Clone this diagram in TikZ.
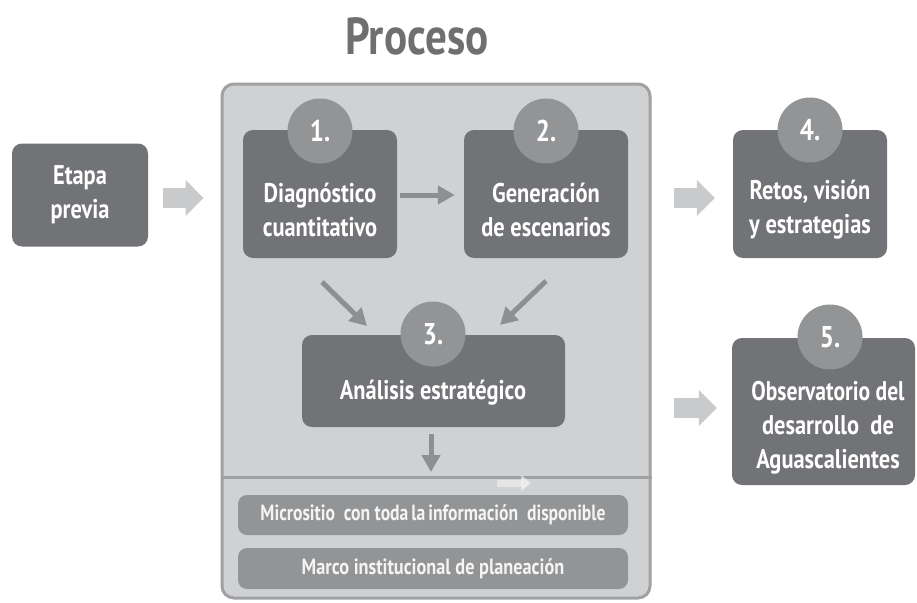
\documentclass[tikz,border=0pt]{standalone}
\usepackage{fontspec}
\setmainfont[FakeStretch=0.83]{PT Sans}
\usepackage{tikz}
\usetikzlibrary{arrows.meta, positioning, calc}
\definecolor{BoxDark}{HTML}{727376}
\definecolor{BadgeGrey}{HTML}{939496}
\definecolor{FrameFill}{HTML}{D0D1D2}
\definecolor{FrameBorder}{HTML}{A0A1A3}
\definecolor{FlowArrow}{HTML}{C9CACB}
\definecolor{InnerArrow}{HTML}{8E8F91}
\definecolor{TitleGrey}{HTML}{6E6F71}
\definecolor{BarText}{HTML}{F4F4F4}

\begin{document}
\begin{tikzpicture}[x=1pt, y=-1pt,
    box/.style={fill=BoxDark, rounded corners=10pt, inner sep=0pt},
    badge/.style={circle, fill=BadgeGrey, minimum size=65pt, inner sep=0pt,
      font=\fontsize{30}{30}\selectfont\bfseries, text=white},
    txt/.style={align=center, text=white, inner sep=0pt,
      font=\fontsize{27}{34}\selectfont\bfseries},
    bar/.style={fill=BadgeGrey, rounded corners=9pt, minimum width=390pt,
      inner sep=0pt, text=BarText, font=\fontsize{22}{22}\selectfont\bfseries},
    flow/.style={-{Triangle[length=18pt,width=35pt]}, line width=20pt, color=FlowArrow},
    arr/.style={-{Triangle[length=17pt,width=18pt]}, line width=5pt, color=InnerArrow}
  ]
    \useasboundingbox[fill=white] (0,0) rectangle (917,602);

    % Title
    \node[font=\fontsize{52}{52}\selectfont\bfseries, text=TitleGrey] (title) at (417,36) {Proceso};

    % Process frame
    \node[draw=FrameBorder, fill=FrameFill, line width=3pt, rounded corners=12pt,
          minimum width=428pt, minimum height=514pt] (frame) at (436,341) {};
    \coordinate (div) at (436,477);
    \draw[FrameBorder, line width=3pt] (frame.west |- div) -- (frame.east |- div);

    % Previous stage
    \node[box, txt, minimum width=136pt, minimum height=103pt] (etapa) at (80,195) {Etapa\\previa};

    % Stage 1
    \node[box, minimum width=154pt, minimum height=128pt] (d1) at (320,194) {};
    \node[txt] (d1txt) at (320,210) {Diagnóstico\\cuantitativo};
    \node[badge] (b1) at (320,131) {1.};

    % Stage 2
    \node[box, minimum width=164pt, minimum height=128pt] (d2) at (546,194) {};
    \node[txt] (d2txt) at (546,210) {Generación\\de escenarios};
    \node[badge] (b2) at (546,131) {2.};

    % Stage 3
    \node[box, minimum width=263pt, minimum height=92pt] (d3) at (433.5,381) {};
    \node[txt] (d3txt) at (433,393) {Análisis estratégico};
    \node[badge] (b3) at (433,334) {3.};

    % Stage 4
    \node[box, minimum width=154pt, minimum height=128pt] (d4) at (810,194) {};
    \node[txt] (d4txt) at (810,210) {Retos, visión\\y estrategias};
    \node[badge] (b4) at (810,130) {4.};

    % Stage 5
    \node[box, minimum width=183pt, minimum height=147pt] (d5) at (823.5,411.5) {};
    \node[txt] (d5txt) at (828,428) {\addfontfeature{FakeStretch=0.8}Observatorio del\\desarrollo~~de\\Aguascalientes};
    \node[badge] (b5) at (830,337) {5.};

    % Bottom bars
    \node[bar, minimum height=40pt] (web) at (433,515)
      {\addfontfeature{FakeStretch=0.8}Micrositio~~con toda\hspace{3pt}la\hspace{3pt}información~~disponible};
    \node[bar, minimum height=41pt] (marco) at (433,568.5)
      {\addfontfeature{FakeStretch=0.83}Marco institucional de planeación};

    % Main flow
    \draw[flow, shorten <=15pt, shorten >=17pt] (etapa.east |- 0,198) -- (frame.west |- 0,198);
    \draw[flow, shorten <=22pt, shorten >=18pt] (frame.east |- 0,198) -- (d4.west |- 0,198);
    \draw[flow, shorten <=22pt, shorten >=15pt] (frame.east |- 0,408) -- (d5.west |- 0,408);

    % Inner arrows
    \coordinate (a1) at (322,282);
    \coordinate (a2) at (546,281);
    \coordinate (a3) at (431,434);
    \draw[arr, shorten <=3pt, shorten >=9pt] (d1.east |- 0,195) -- (d2.west |- 0,195);
    \draw[arr] (a1) -- (367,326);
    \draw[arr] (a2) -- (500,325);
    \draw[arr] (a3) -- (431,472);
    \draw[-{Triangle[length=10pt,width=16pt]}, line width=7pt, white, opacity=0.45]
      (497,483) -- (531,483);
  \end{tikzpicture}
\end{document}
